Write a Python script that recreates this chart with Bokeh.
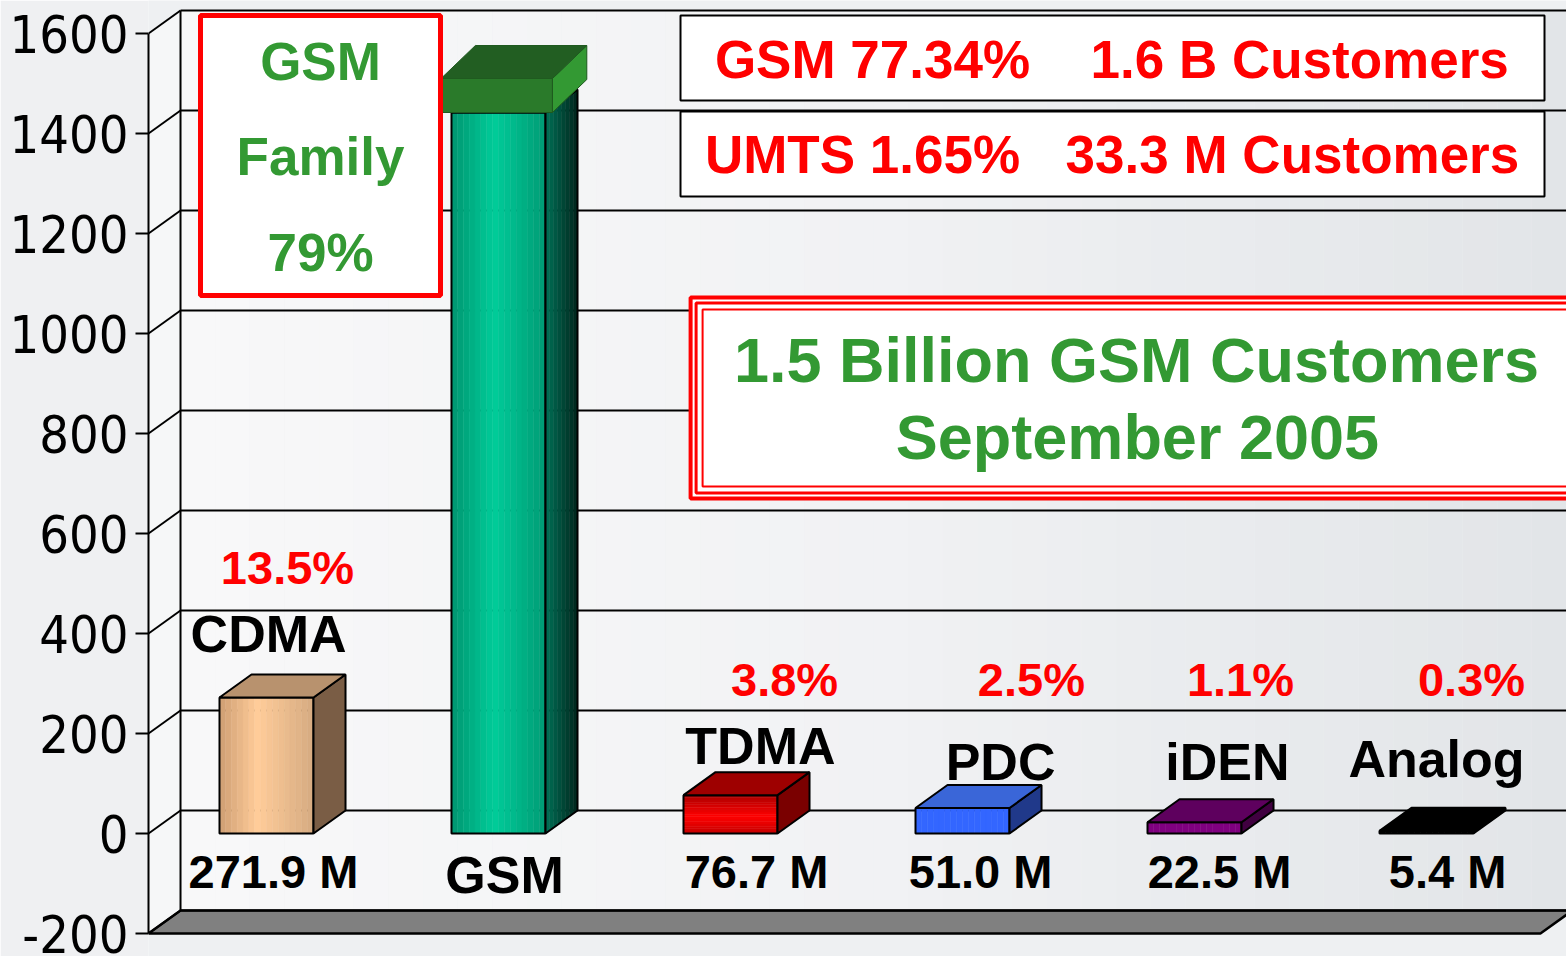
import numpy as np
from bokeh.plotting import figure
from bokeh.models import Range1d, LinearAxis, FixedTicker, PrintfTickFormatter
from bokeh.core.properties import value
from bokeh.embed import file_html
from bokeh.resources import INLINE

# ---------------- data ----------------
categories = ["CDMA", "GSM", "TDMA", "PDC", "iDEN", "Analog"]
customers_m = [271.9, 1442.0, 76.7, 51.0, 22.5, 5.4]   # GSM body (teal)
gsm_cap_top = 1510.0                                   # green cap on the GSM bar
share_text = ["13.5%", "3.8%", "2.5%", "1.1%", "0.3%"]
value_text = ["271.9 M", "76.7 M", "51.0 M", "22.5 M", "5.4 M"]
y_ticks = [-200, 0, 200, 400, 600, 800, 1000, 1200, 1400, 1600]
family_lines = ["GSM", "Family", "79%"]
box1_text = ["GSM 77.34%", "1.6 B Customers"]
box2_text = ["UMTS 1.65%", "33.3 M Customers"]
headline = ["1.5 Billion GSM Customers", "September 2005"]

# ---------------- geometry ----------------
W, H = 1566, 956
X0, X1 = -0.5086, 5.6034
Y0, Y1 = -246.0, 1666.0
HW = 0.2026          # half bar width (category units)
DX, DY = 0.138, 46.0 # depth offset
YMIN, YMAX = -200.0, 1600.0

BOLD = value("Liberation Sans")
GREEN = "#339933"
RED = "#ff0000"

p = figure(width=W, height=H, x_range=Range1d(X0, X1), y_range=Range1d(Y0, Y1),
           x_axis_type=None, y_axis_type=None, toolbar_location=None,
           output_backend="svg", min_border_left=148, min_border_right=0,
           min_border_top=0, min_border_bottom=0)
p.outline_line_color = None
p.background_fill_color = "#eef0f2"
p.border_fill_color = "#eff0f2"

yaxis = LinearAxis(ticker=FixedTicker(ticks=y_ticks), bounds=(YMIN, YMAX),
                   formatter=PrintfTickFormatter(format="%d"))
yaxis.axis_line_width = 2
yaxis.axis_line_color = "black"
yaxis.major_tick_line_width = 2
yaxis.major_tick_out = 13
yaxis.major_tick_in = 0
yaxis.minor_tick_line_color = None
yaxis.major_label_text_font = "DejaVu Sans Condensed"
yaxis.major_label_text_font_size = "52px"
yaxis.major_label_text_color = "black"
yaxis.major_label_standoff = 7
p.add_layout(yaxis, "left")


def hex2rgb(h):
    h = h.lstrip("#")
    return np.array([int(h[i:i + 2], 16) for i in (0, 2, 4)], dtype=float)


def grad(stops, n):
    ts = np.linspace(0, 1, n)
    pos = [s[0] for s in stops]
    cols = [hex2rgb(s[1]) for s in stops]
    out = []
    for t in ts:
        c = np.array([np.interp(t, pos, [cc[k] for cc in cols]) for k in range(3)])
        out.append("#%02x%02x%02x" % tuple(int(round(v)) for v in c))
    return out


# ---------------- walls & floor ----------------
n_bg = 40
bg_edges = np.linspace(X0 + DX, X1, n_bg + 1)
p.quad(left=bg_edges[:-1], right=bg_edges[1:], bottom=YMIN + DY, top=YMAX + DY,
       fill_color=grad([(0, "#f8f8f9"), (0.5, "#f1f2f4"), (1, "#e2e5e8")], n_bg),
       line_color=None)
p.patch([X0, X0 + DX, X0 + DX, X0], [YMIN, YMIN + DY, YMAX + DY, YMAX],
        fill_color="#f6f7f8", line_color=None)
floor_end = 5.491
p.patch([X0, floor_end, floor_end + DX, X0 + DX], [YMIN, YMIN, YMIN + DY, YMIN + DY],
        fill_color="#808080", line_color="black", line_width=2.5)

gt = np.array(y_ticks, dtype=float)
p.segment(x0=[X0 + DX] * len(gt), y0=gt + DY, x1=[X1] * len(gt), y1=gt + DY,
          line_color="black", line_width=2)
p.segment(x0=[X0] * len(gt), y0=gt, x1=[X0 + DX] * len(gt), y1=gt + DY,
          line_color="black", line_width=2)
p.segment(x0=[X0 + DX], y0=[YMIN + DY], x1=[X0 + DX], y1=[YMAX + DY],
          line_color="black", line_width=2)

# ---------------- bars ----------------
front_grad = {
    "CDMA": ([(0, "#d2a276"), (0.4, "#ffcc99"), (1, "#d8ad83")], "h"),
    "GSM": ([(0, "#009973"), (0.45, "#00cc99"), (1, "#009e77")], "h"),
    "TDMA": ([(0, "#c80000"), (0.45, "#ff0000"), (1, "#b00000")], "v"),
    "PDC": ([(0, "#3366ff"), (1, "#3366ff")], "h"),
    "iDEN": ([(0, "#800080"), (1, "#800080")], "h"),
    "Analog": ([(0, "#000000"), (1, "#000000")], "h"),
}
top_col = {"CDMA": "#b8926e", "GSM": "#00b386", "TDMA": "#9e0000", "PDC": "#3a66d8",
           "iDEN": "#5e005e", "Analog": "#000000"}
side_col = {"CDMA": "#7a5d45", "GSM": "#00604a", "TDMA": "#7a0000", "PDC": "#20398a",
            "iDEN": "#400040", "Analog": "#000000"}

N = 16
for i, (cat, v) in enumerate(zip(categories, customers_m)):
    l, r = i - HW, i + HW
    stops, mode = front_grad[cat]
    cols = grad(stops, N)
    if mode == "h":
        e = np.linspace(l, r, N + 1)
        p.quad(left=e[:-1], right=e[1:], bottom=0, top=v, fill_color=cols, line_color=cols,
               line_width=0.5)
    else:
        e = np.linspace(0, v, N + 1)
        p.quad(left=l, right=r, bottom=e[:-1], top=e[1:], fill_color=cols, line_color=cols,
               line_width=0.5)
    p.quad(left=[l], right=[r], bottom=[0], top=[v], fill_alpha=0, line_color="black",
           line_width=2)
    # side
    if cat == "GSM":
        sc = grad([(0, "#006b52"), (1, "#002a20")], 8)
        se = np.linspace(0, 1, 9)
        p.patches([[r + DX * se[k], r + DX * se[k + 1], r + DX * se[k + 1], r + DX * se[k]]
                   for k in range(8)],
                  [[DY * se[k], DY * se[k + 1], v + DY * se[k + 1], v + DY * se[k]]
                   for k in range(8)], fill_color=sc, line_color=sc, line_width=0.5)
        p.patch([r, r + DX, r + DX, r], [0, DY, v + DY, v], fill_alpha=0,
                line_color="black", line_width=2)
    else:
        p.patch([r, r + DX, r + DX, r], [0, DY, v + DY, v], fill_color=side_col[cat],
                line_color="black", line_width=2)
    p.patch([l, r, r + DX, l + DX], [v, v, v + DY, v + DY], fill_color=top_col[cat],
            line_color="black", line_width=2)

# GSM cap
gi = categories.index("GSM")
cl, cr = gi - HW - 0.045, gi + HW + 0.03
cdx, cdy = 0.148, 66.0
cb, ct = customers_m[gi], gsm_cap_top
p.quad(left=[cl], right=[cr], bottom=[cb], top=[ct], fill_color="#2a7a2a",
       line_color="#1f5a1f", line_width=1)
p.patch([cr, cr + cdx, cr + cdx, cr], [cb, cb + cdy, ct + cdy, ct], fill_color="#339933",
        line_color="#1f5a1f", line_width=1)
p.patch([cl, cr, cr + cdx, cl + cdx], [ct, ct, ct + cdy, ct + cdy], fill_color="#225e22",
        line_color="#1f5a1f", line_width=1)

# ---------------- labels ----------------
share_x = [0.0905, 2.233, 3.297, 4.198, 5.194]
share_y = [532, 308, 308, 308, 308]
p.text(x=share_x, y=share_y, text=share_text, text_font=BOLD, text_font_style="bold",
       text_font_size="47px", text_color=RED, text_align="center", text_baseline="middle")

name_x = [0.009, 1.026, 2.129, 3.164, 4.142, 5.043]
name_y = [399, -82, 176, 143, 143, 150]
p.text(x=name_x, y=name_y, text=categories, text_font=BOLD, text_font_style="bold",
       text_font_size="52px", text_color="black", text_align="center", text_baseline="middle")

val_x = [0.030, 2.112, 3.078, 4.108, 5.091]
p.text(x=val_x, y=[-76] * len(val_x), text=value_text, text_font=BOLD, text_font_style="bold",
       text_font_size="47px", text_color="black", text_align="center", text_baseline="middle")

# GSM family box
p.quad(left=[-0.2845], right=[0.75], bottom=[1076], top=[1636], fill_color="white",
       line_color=RED, line_width=5)
p.text(x=[0.2328] * 3, y=[1544, 1354, 1162], text=family_lines, text_font=BOLD,
       text_font_style="bold", text_font_size="53px", text_color=GREEN,
       text_align="center", text_baseline="middle")

# top-right boxes
p.quad(left=[1.7845, 1.7845], right=[5.5086, 5.5086], bottom=[1466, 1274], top=[1636, 1444],
       fill_color="white", line_color="black", line_width=2)
p.text(x=[2.612, 4.453], y=[1549, 1549], text=box1_text, text_font=BOLD,
       text_font_style="bold", text_font_size="53px", text_color=RED,
       text_align="center", text_baseline="middle")
p.text(x=[2.569, 4.422], y=[1358, 1358], text=box2_text, text_font=BOLD,
       text_font_style="bold", text_font_size="53px", text_color=RED,
       text_align="center", text_baseline="middle")

# headline box (triple red border)
bl, br, bb, bt = 1.828, 5.9, 670, 1072
p.quad(left=[bl], right=[br], bottom=[bb], top=[bt], fill_color="white",
       line_color=RED, line_width=4)
p.quad(left=[bl + 0.0237], right=[br], bottom=[bb + 11], top=[bt - 11], fill_alpha=0,
       line_color=RED, line_width=3)
p.quad(left=[bl + 0.0517], right=[br], bottom=[bb + 24], top=[bt - 24], fill_alpha=0,
       line_color=RED, line_width=2)
p.text(x=[3.75, 3.754], y=[947, 794], text=headline, text_font=BOLD, text_font_style="bold",
       text_font_size="63px", text_color=GREEN, text_align="center", text_baseline="middle")

open("out.html", "w").write(file_html(p, INLINE))
